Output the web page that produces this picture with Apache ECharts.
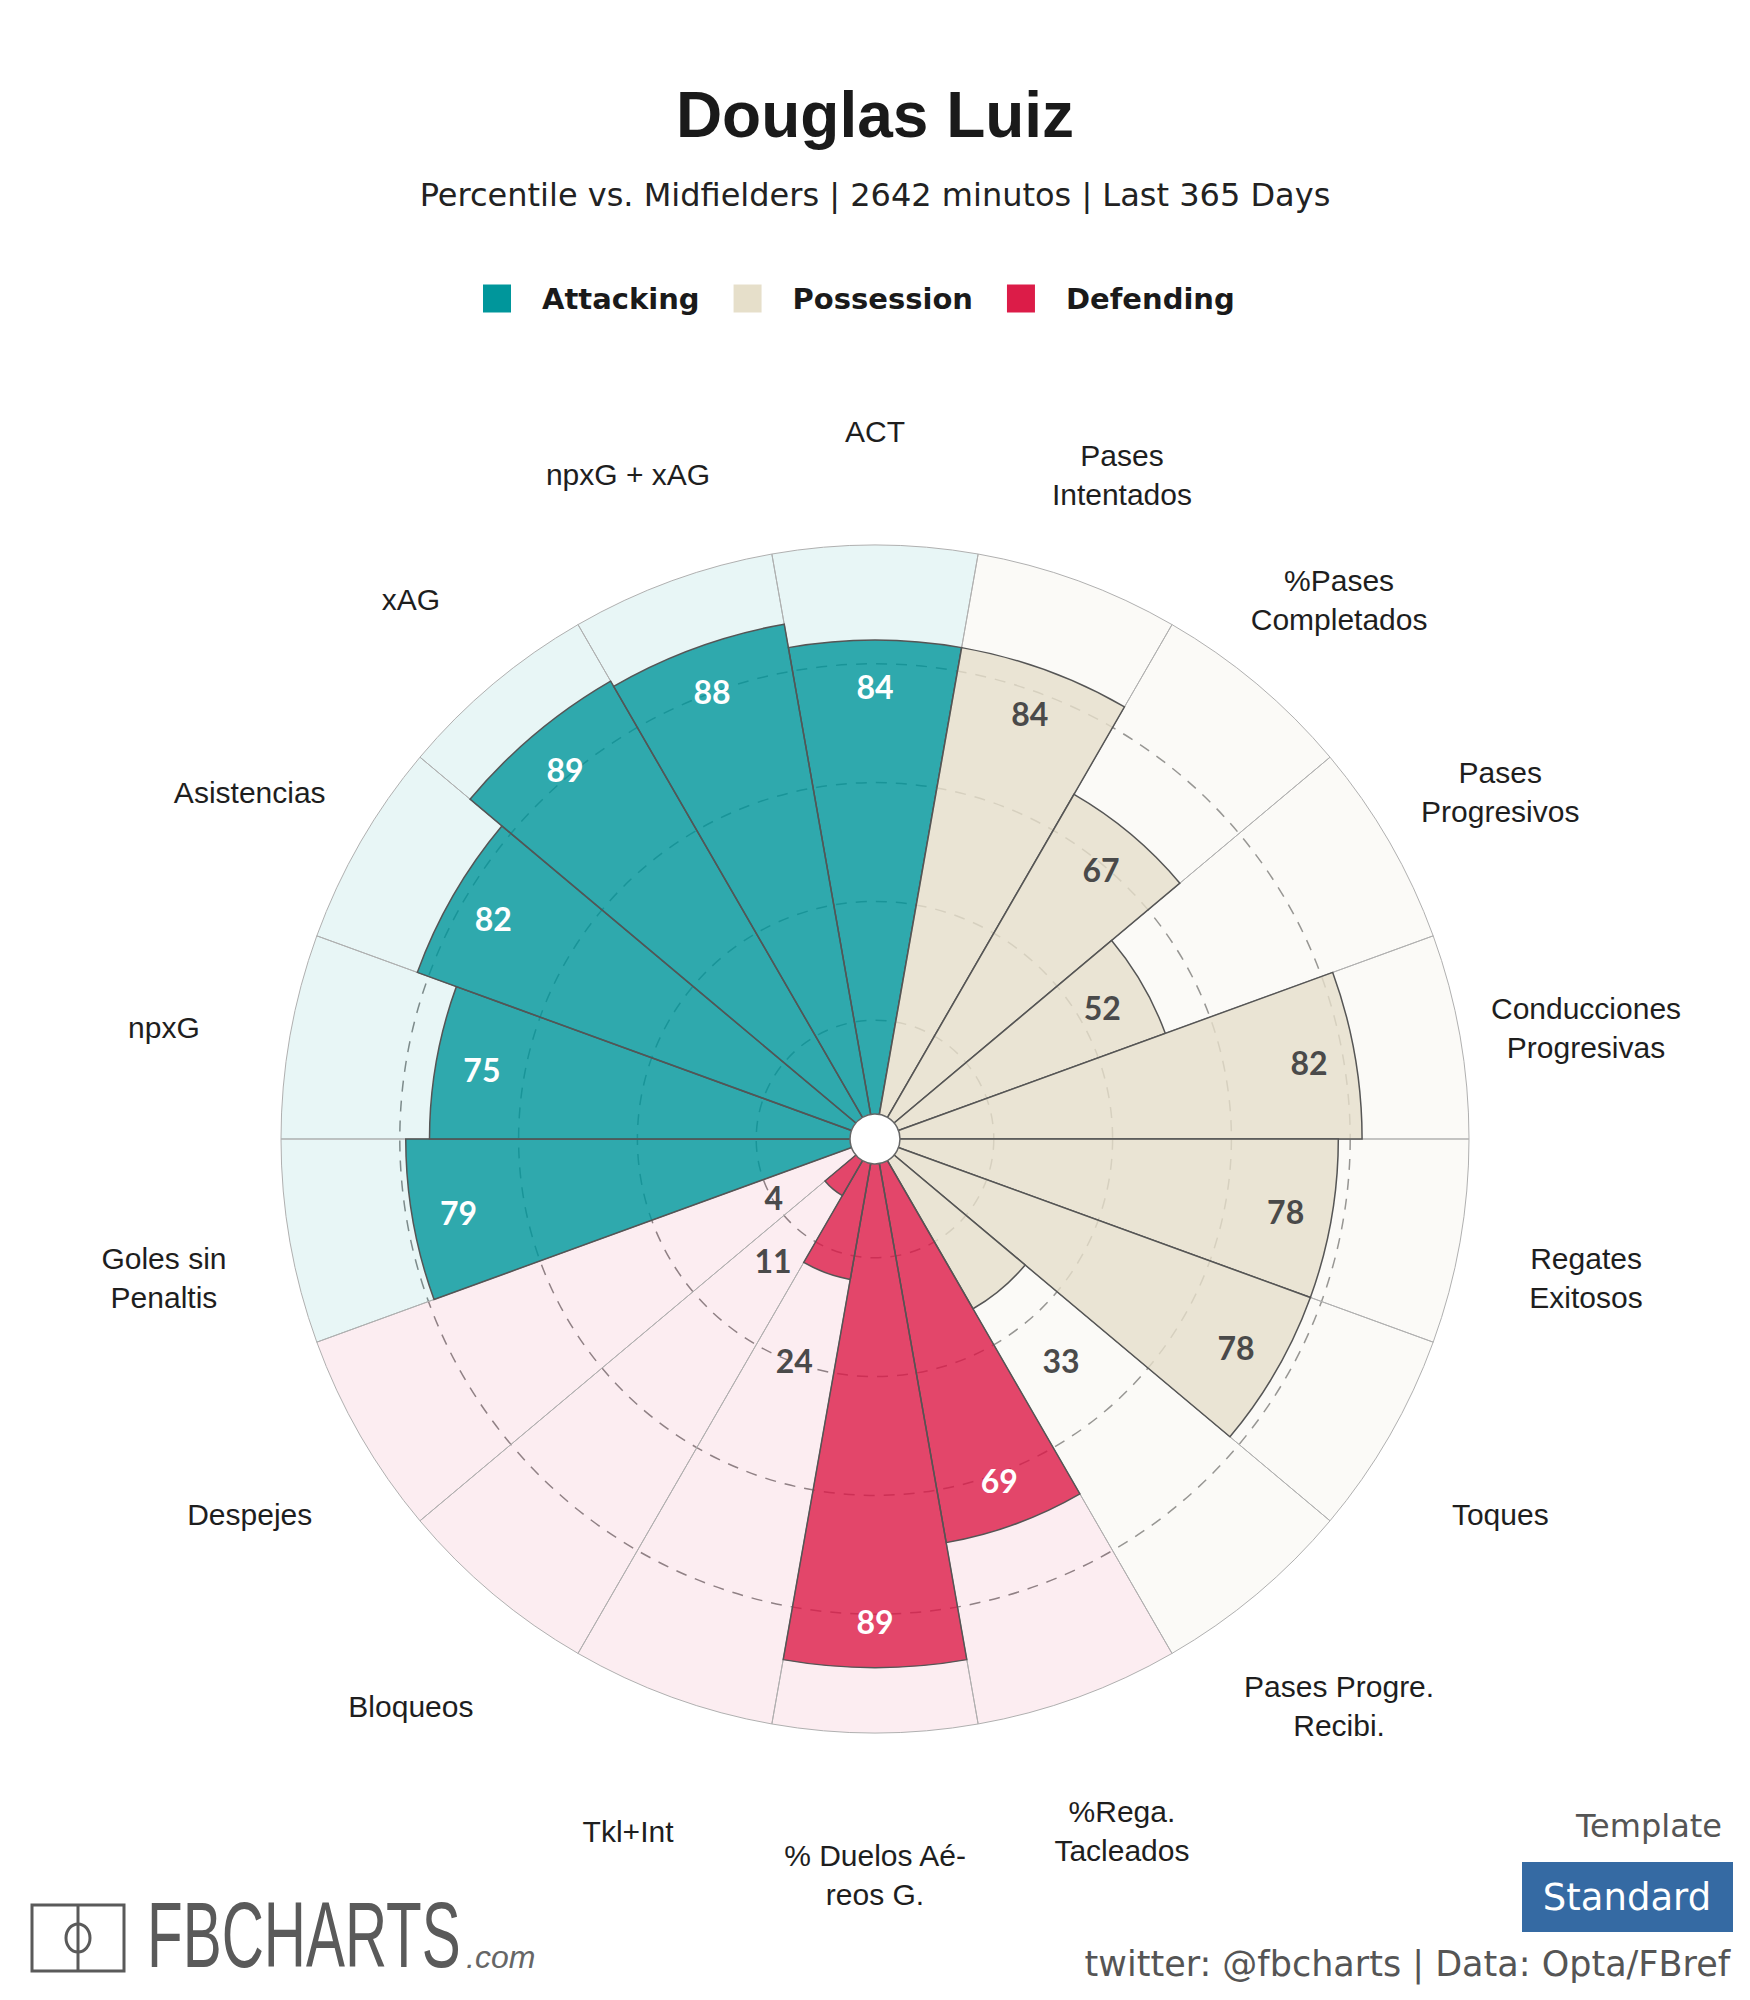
<!DOCTYPE html>
<html>
<head>
<meta charset="utf-8">
<script src="https://cdn.jsdelivr.net/npm/echarts@6/dist/echarts.min.js"></script>
<style>
html,body{margin:0;padding:0;background:#ffffff;}
#chart{width:1750px;height:2000px;}
</style>
</head>
<body>
<div id="chart"></div>
<script>
// ---- data ----
const categories = ['ACT','Pases Intentados','%Pases Completados','Pases Progresivos','Conducciones Progresivas','Regates Exitosos','Toques','Pases Progre. Recibi.','%Rega. Tacleados','% Duelos Aéreos G.','Tkl+Int','Bloqueos','Despejes','Goles sin Penaltis','npxG','Asistencias','xAG','npxG + xAG'];
const tickLabels = ['ACT','Pases\nIntentados','%Pases\nCompletados','Pases\nProgresivos','Conducciones\nProgresivas','Regates\nExitosos','Toques','Pases Progre.\nRecibi.','%Rega.\nTacleados','% Duelos Aé-\nreos G.','Tkl+Int','Bloqueos','Despejes','Goles sin\nPenaltis','npxG','Asistencias','xAG','npxG + xAG'];
const groups = ['Attacking','Possession','Possession','Possession','Possession','Possession','Possession','Possession','Defending','Defending','Defending','Defending','Defending','Attacking','Attacking','Attacking','Attacking','Attacking'];
const values = [84,84,67,52,82,78,78,33,69,89,24,11,4,79,75,82,89,88];
const groupNames = ['Attacking','Possession','Defending'];
const percentileMax = 100;
const titleText = 'Douglas Luiz';
const subtitleText = 'Percentile vs. Midfielders | 2642 minutos | Last 365 Days';

// ---- styles ----
const legendColors = {Attacking:'#00969b', Possession:'#e6dfca', Defending:'#dc1c48'};
const barColors = {Attacking:'rgba(0,150,155,0.8)', Possession:'rgba(230,223,202,0.8)', Defending:'rgba(220,28,72,0.8)'};
const bgColors = {Attacking:'rgba(0,150,155,0.09)', Possession:'rgba(230,223,202,0.15)', Defending:'rgba(220,28,72,0.08)'};
const CX = 875, CY = 1139;
const dashColor = '#8a8a8a';

const chart = echarts.init(document.getElementById('chart'), null, {renderer:'svg'});

const valueSeries = groupNames.map(g => ({
  type:'bar', coordinateSystem:'polar', polarIndex:0, name:g,
  data: values.map((v,i) => groups[i] === g ? v : '-'),
  barCategoryGap:'0%', barGap:'-100%',
  itemStyle:{color:barColors[g], borderColor:'#555555', borderWidth:1.5},
  z:2, silent:true
}));

const option = {
  backgroundColor:'#ffffff',
  animation:false,
  title:[
    {text:titleText, left:'center', top:78, textStyle:{fontFamily:'Liberation Sans', fontWeight:'bold', fontSize:64, color:'#1a1a1a'}},
    {text:subtitleText, left:'center', top:174, textStyle:{fontFamily:'DejaVu Sans', fontWeight:'normal', fontSize:32, color:'#222222'}}
  ],
  legend:{
    data: groupNames.map(g => ({name:g, icon:'rect', itemStyle:{color:legendColors[g], borderWidth:0, opacity:1}})),
    left:478, top:279, itemWidth:28, itemHeight:28, itemGap:34, selectedMode:false,
    textStyle:{fontFamily:'DejaVu Sans', fontWeight:'bold', fontSize:29, color:'#1a1a1a', padding:[0,0,0,26]}
  },
  polar:[
    {center:[CX,CY], radius:594},
    {center:[CX,CY], radius:722}
  ],
  angleAxis:[
    {polarIndex:0, type:'category', data:categories, startAngle:100, clockwise:true,
     axisLine:{show:false}, axisTick:{show:false}, axisLabel:{show:false}, splitLine:{show:false}},
    {polarIndex:1, type:'category', data:categories, startAngle:100, clockwise:true,
     axisLine:{show:false}, axisTick:{show:false}, axisLabel:{show:false}, splitLine:{show:false}}
  ],
  radiusAxis:[
    {polarIndex:0, type:'value', min:0, max:percentileMax, interval:20,
     axisLine:{show:false}, axisTick:{show:false}, axisLabel:{show:false},
     splitLine:{show:true, lineStyle:{color:[dashColor,dashColor,dashColor,dashColor,dashColor,'rgba(0,0,0,0)'], width:1.5, type:[11,9]}}},
    {polarIndex:1, type:'value', min:0, max:percentileMax,
     axisLine:{show:false}, axisTick:{show:false}, axisLabel:{show:false}, splitLine:{show:false}}
  ],
  series:[
    {type:'bar', coordinateSystem:'polar', polarIndex:0, name:'background',
     data: categories.map((c,i) => ({value:percentileMax, itemStyle:{color:bgColors[groups[i]]}})),
     barCategoryGap:'0%', barGap:'-100%',
     itemStyle:{borderColor:'#b0b0b0', borderWidth:1}, z:1, silent:true},
    ...valueSeries,
    {type:'scatter', coordinateSystem:'polar', polarIndex:0, name:'valueLabels',
     symbolSize:1, itemStyle:{color:'rgba(0,0,0,0)', opacity:1},
     data: values.map((v,i) => ({
       value:[v >= 40 ? v - 7.8 : v + 15.7, categories[i], v],
       label:{color:(v >= 40 && groups[i] !== 'Possession') ? '#ffffff' : '#4a4a4a'}
     })),
     label:{show:true, position:'inside', opacity:1, textBorderWidth:0, formatter:p => String(p.value[2]), fontFamily:'Lato', fontWeight:'bold', fontSize:32},
     z:5, silent:true},
    {type:'scatter', coordinateSystem:'polar', polarIndex:0, name:'hole',
     data:[[0, categories[0]]], symbolSize:50,
     itemStyle:{color:'#ffffff', borderColor:'#666666', borderWidth:1.5, opacity:1}, z:10, silent:true},
    {type:'scatter', coordinateSystem:'polar', polarIndex:1, name:'categoryLabels',
     symbolSize:1, itemStyle:{color:'rgba(0,0,0,0)', opacity:1},
     data: categories.map((c,i) => ({value:[percentileMax, c], label:{formatter:tickLabels[i]}})),
     label:{show:true, position:'inside', opacity:1, textBorderWidth:0, offset:[0,14], fontFamily:'Liberation Sans', fontSize:30, lineHeight:39, color:'#1e1e1e'},
     z:5, silent:true}
  ],
  graphic:[
    {type:'rect', shape:{x:32, y:1905, width:92, height:66}, style:{fill:'none', stroke:'#5a5a5a', lineWidth:3}},
    {type:'line', shape:{x1:78, y1:1905, x2:78, y2:1971}, style:{stroke:'#5a5a5a', lineWidth:3}},
    {type:'ellipse', shape:{cx:78, cy:1938, rx:12, ry:14}, style:{fill:'none', stroke:'#5a5a5a', lineWidth:3}},
    {type:'text', x:147, y:1935, scaleX:0.635, style:{text:'FBCHARTS', font:'92px "Liberation Sans"', fill:'#5a5a5a', textAlign:'left', textVerticalAlign:'middle'}},
    {type:'text', x:466, y:1957, style:{text:'.com', font:'italic 32px "Liberation Sans"', fill:'#666666', textAlign:'left', textVerticalAlign:'middle'}},
    {type:'text', x:1722, y:1826, style:{text:'Template', font:'32px "DejaVu Sans"', fill:'#555555', textAlign:'right', textVerticalAlign:'middle'}},
    {type:'rect', shape:{x:1522, y:1862, width:211, height:70}, style:{fill:'#356aa3'}},
    {type:'text', x:1627, y:1897, style:{text:'Standard', font:'37px "DejaVu Sans"', fill:'#ffffff', textAlign:'center', textVerticalAlign:'middle'}},
    {type:'text', x:1730, y:1964, style:{text:'twitter: @fbcharts | Data: Opta/FBref', font:'35px "DejaVu Sans"', fill:'#555555', textAlign:'right', textVerticalAlign:'middle'}}
  ]
};
chart.setOption(option);
</script>
</body>
</html>
